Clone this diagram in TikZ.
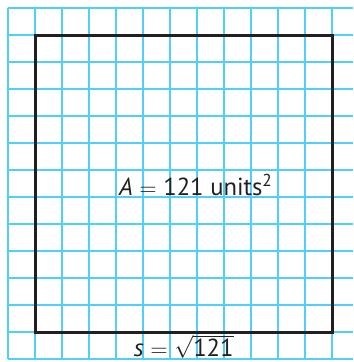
\documentclass[tikz,border=0pt]{standalone}
\usepackage{fontspec}
\setmainfont{PT Sans}
\usetikzlibrary{positioning}
\definecolor{gridline}{HTML}{50CFFA}
\definecolor{ink}{HTML}{231F20}
\tikzset{
  font=\fontsize{13}{15}\selectfont,
  %
  gridln/.style={draw=gridline, line width=0.85pt},
  sqbox/.style={draw=ink, line width=1.8pt, inner sep=0pt,
                minimum width=5.5cm, minimum height=5.5cm},
  %
  lbl/.style={text=ink, inner sep=0pt, anchor=base},
}
\begin{document}
\begin{tikzpicture}[x=0.5cm, y=0.5cm]
\useasboundingbox (-0.307,-0.1) rectangle (12.767,13.307);

% ------------------------------------------------------------------ grid
\foreach \x in {0,...,12} { \draw[gridln] (\x,0) -- (\x,13); }
\foreach \y in {0,...,13} { \draw[gridln] (0,\y) -- (12.767,\y); }

% ---------------------------------------------------------------- square
\node[sqbox] (sq) at (6.5,6.5) {};

\node[lbl] (area) at (6.95,6.08) {\textit{A} \(=\) 121 units\textsuperscript{2}};
\node[lbl] (side) at (6.5,0.1) {\textit{s} \(=\) \(\sqrt{\mbox{121}}\)};

\end{tikzpicture}
\end{document}
